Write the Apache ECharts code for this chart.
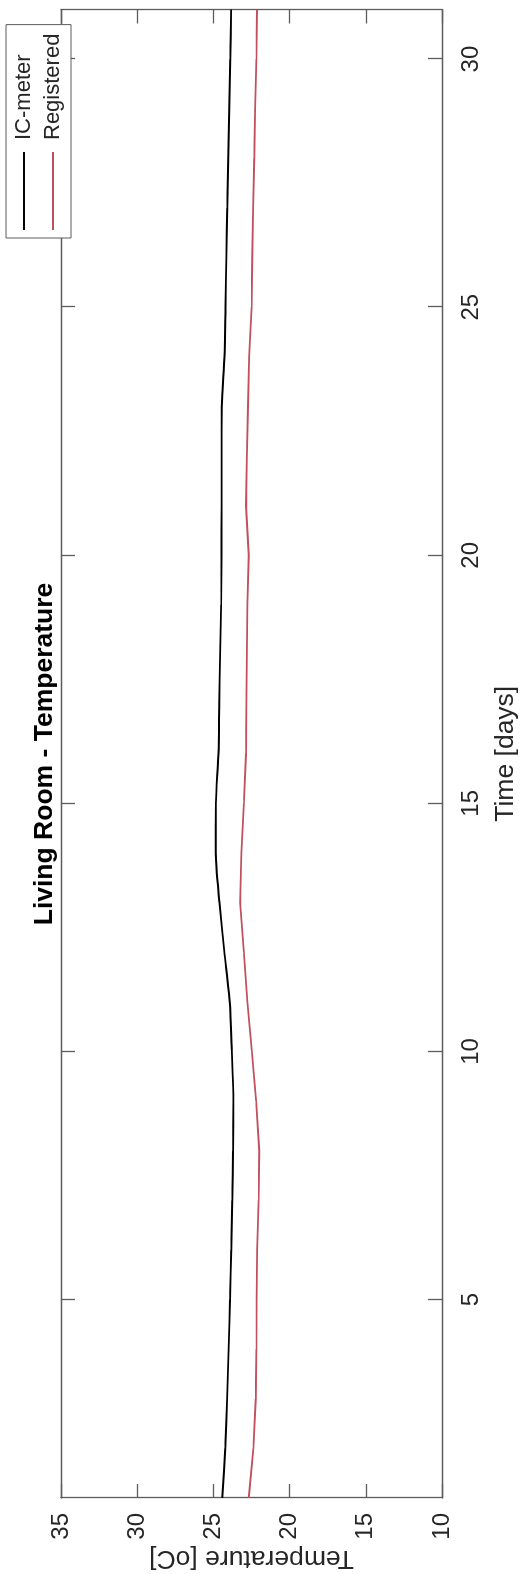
<!DOCTYPE html>
<html>
<head>
<meta charset="utf-8">
<script src="https://cdn.jsdelivr.net/npm/echarts@6/dist/echarts.min.js"></script>
<style>
  html, body { margin: 0; padding: 0; overflow: hidden; background: #fff; width: 525px; height: 1574px; }
  /* The figure is laid out landscape and turned a quarter-turn counter-clockwise */
  #chart {
    position: absolute; left: 0; top: 0;
    width: 1574px; height: 525px;
    transform-origin: 0 0;
    transform: translate(0, 1574px) rotate(-90deg);
  }
</style>
</head>
<body>
<div id="chart"></div>
<script>
// Daily mean temperatures in the living room
const days = [1, 2, 3, 4, 5, 6, 7, 8, 9, 10, 11, 12, 13, 14, 15, 16, 17, 18, 19, 20, 21, 22, 23, 24, 25, 26, 27, 28, 29, 30, 31];
const icMeter = [24.42, 24.22, 24.10, 24.00, 23.91, 23.83, 23.76, 23.71, 23.69, 23.79, 23.93, 24.28, 24.60, 24.85, 24.84, 24.67, 24.62, 24.56, 24.49, 24.47, 24.46, 24.46, 24.45, 24.27, 24.21, 24.15, 24.09, 24.03, 23.96, 23.89, 23.84];
const registered = [22.68, 22.38, 22.22, 22.18, 22.16, 22.13, 22.03, 21.99, 22.20, 22.47, 22.77, 23.00, 23.25, 23.17, 23.00, 22.86, 22.83, 22.80, 22.77, 22.68, 22.86, 22.80, 22.73, 22.66, 22.49, 22.45, 22.39, 22.32, 22.26, 22.18, 22.14];
const dayTicks = [5, 10, 15, 20, 25, 30];
const seriesNames = ['IC-meter', 'Registered'];

const FONT = '"Liberation Sans", Arial, Helvetica, sans-serif';
const AXIS_COLOR = '#5c5c5c';
const TEXT_COLOR = '#262626';

const chart = echarts.init(document.getElementById('chart'), null, { width: 1574, height: 525, renderer: 'canvas' });

const timeAxisBase = {
  type: 'value', min: 1, max: 31,
  axisLine: { show: true, onZero: false, lineStyle: { color: AXIS_COLOR, width: 1.3 } },
  axisTick: { show: true, inside: true, length: 14, customValues: dayTicks, lineStyle: { color: AXIS_COLOR, width: 1.3 } },
  splitLine: { show: false }
};
const tempAxisBase = {
  type: 'value', min: 10, max: 35, interval: 5,
  axisLine: { show: true, onZero: false, lineStyle: { color: AXIS_COLOR, width: 1.3 } },
  axisTick: { show: true, inside: true, length: 14, lineStyle: { color: AXIS_COLOR, width: 1.3 } },
  splitLine: { show: false }
};

chart.setOption({
  animation: false,
  backgroundColor: '#fff',
  title: {
    text: 'Living Room - Temperature',
    left: 820, top: 30, textAlign: 'center', padding: 0,
    textStyle: { fontFamily: FONT, fontSize: 26.5, fontWeight: 'bold', color: '#000', lineHeight: 30 }
  },
  legend: {
    data: seriesNames,
    orient: 'vertical', left: 1336, top: 6,
    icon: 'rect', itemWidth: 78, itemHeight: 2, itemGap: 7,
    padding: [7, 9, 7, 8],
    borderColor: AXIS_COLOR, borderWidth: 1, backgroundColor: '#fff',
    textStyle: { fontFamily: FONT, fontSize: 22, color: TEXT_COLOR, padding: [0, 0, 0, 7] }
  },
  grid: { left: 76, right: 9.5, top: 61, bottom: 83, containLabel: false, outerBoundsMode: 'none' },
  xAxis: [
    Object.assign({}, timeAxisBase, {
      position: 'bottom',
      name: 'Time [days]', nameLocation: 'middle', nameGap: 50, nameMoveOverlap: false,
      nameTextStyle: { fontFamily: FONT, fontSize: 26.5, color: TEXT_COLOR },
      axisLabel: { show: true, margin: 17, customValues: dayTicks, fontFamily: FONT, fontSize: 24, color: TEXT_COLOR }
    }),
    Object.assign({}, timeAxisBase, { position: 'top', axisLabel: { show: false } })
  ],
  yAxis: [
    Object.assign({}, tempAxisBase, {
      position: 'left',
      name: 'Temperature [oC]', nameLocation: 'middle', nameGap: 47, nameRotate: 90, nameMoveOverlap: false,
      nameTextStyle: { fontFamily: FONT, fontSize: 26.5, color: TEXT_COLOR },
      axisLabel: { show: true, margin: 15, fontFamily: FONT, fontSize: 24, color: TEXT_COLOR }
    }),
    Object.assign({}, tempAxisBase, { position: 'right', axisLabel: { show: false } })
  ],
  series: [
    {
      name: seriesNames[0], type: 'line', xAxisIndex: 0, yAxisIndex: 0,
      showSymbol: false, symbol: 'none', smooth: 0.25,
      data: days.map((d, i) => [d, icMeter[i]]),
      lineStyle: { color: '#000000', width: 1.9 },
      itemStyle: { color: '#000000' }
    },
    {
      name: seriesNames[1], type: 'line', xAxisIndex: 0, yAxisIndex: 0,
      showSymbol: false, symbol: 'none',
      data: days.map((d, i) => [d, registered[i]]),
      lineStyle: { color: '#c0505f', width: 1.8 },
      itemStyle: { color: '#c0505f' }
    }
  ]
});
</script>
</body>
</html>
